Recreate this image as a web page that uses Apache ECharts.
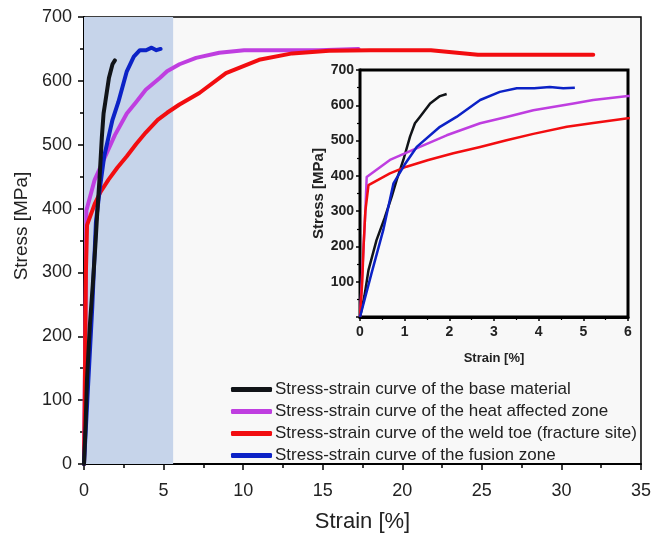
<!DOCTYPE html>
<html><head><meta charset="utf-8">
<script src="https://cdn.jsdelivr.net/npm/echarts@6/dist/echarts.min.js"></script>
<style>html,body{margin:0;padding:0;background:#fff;}#c{width:654px;height:538px;}</style>
</head><body><div id="c"></div>
<script>
const names = [
  'Stress-strain curve of the base material',
  'Stress-strain curve of the heat affected zone',
  'Stress-strain curve of the weld toe (fracture site)',
  'Stress-strain curve of the fusion zone'
];
const colors = ['#111418', '#bf3ee0', '#f20d10', '#0c22c6'];

const baseStrain = [0, 0.1, 0.19, 0.37, 0.55, 0.71, 0.82, 0.97, 1.12, 1.23, 1.34, 1.57, 1.79, 1.94];
const baseStress = [0, 60, 133, 218, 280, 341, 388, 445, 511, 549, 567, 605, 626, 632];

const hazStrain = [0, 0.08, 0.12, 0.15, 0.67, 1.34, 1.94, 2.69, 3.28, 3.88, 4.78, 5.22, 6.0, 7.04, 8.5, 10.06, 12, 14.75, 17.25];
const hazStress = [0, 200, 300, 397, 445, 482, 515, 549, 567, 586, 605, 615, 626, 636, 644, 648, 648, 648, 650];

const toeStrain = [0, 0.05, 0.08, 0.12, 0.19, 0.67, 1.04, 1.53, 2.09, 2.69, 3.28, 3.88, 4.63, 5.22, 6.0, 7.25, 8.92, 11, 13.08, 15.4, 18, 21.8, 24.75, 32.0];
const toeStress = [0, 100, 200, 300, 374, 407, 426, 445, 464, 482, 501, 519, 539, 550, 563, 581, 612, 633, 643, 647, 648, 648, 641, 641];

const fusStrain = [0, 0.25, 0.52, 0.75, 1.0, 1.27, 1.79, 2.16, 2.69, 3.13, 3.51, 3.9, 4.25, 4.55, 4.81];
const fusStress = [0, 120, 246, 379, 432, 482, 539, 567, 615, 638, 648, 648, 652, 648, 650];

const shadeFrom = 0, shadeTo = 5.6;

const pairs = (xs, ys) => xs.map((x, i) => [x, ys[i]]);
const datasets = [pairs(baseStrain, baseStress), pairs(hazStrain, hazStress), pairs(toeStrain, toeStress), pairs(fusStrain, fusStress)];

const FONT = 'Liberation Sans, Arial, sans-serif';
const series = [];
datasets.forEach((d, i) => {
  series.push({
    name: names[i], type: 'line', xAxisIndex: 0, yAxisIndex: 0, data: d,
    showSymbol: false, symbol: 'none', smooth: false,
    lineStyle: { color: colors[i], width: 4, cap: 'round', join: 'round' },
    itemStyle: { color: colors[i] }, z: 3 + (i === 0 ? 1 : 0),
    markArea: i === 0 ? { silent: true, itemStyle: { color: '#c6d4ea', opacity: 1 }, data: [[{ xAxis: shadeFrom }, { xAxis: shadeTo }]], z: 1 } : undefined
  });
});
datasets.forEach((d, i) => {
  series.push({
    name: names[i], type: 'line', xAxisIndex: 1, yAxisIndex: 1, data: d,
    showSymbol: false, symbol: 'none', clip: true,
    lineStyle: { color: colors[i], width: 2.5, join: 'round' },
    itemStyle: { color: colors[i] }, z: 5
  });
});

const chart = echarts.init(document.getElementById('c'), null, { renderer: 'canvas' });
chart.setOption({
  animation: false,
  backgroundColor: '#ffffff',
  textStyle: { fontFamily: FONT },
  grid: [
    { left: 84, top: 17, width: 560, height: 450, show: true, backgroundColor: '#f8f8f8', borderColor: '#000', borderWidth: 1.5 },
    { left: 360, top: 70, width: 268, height: 247, show: true, backgroundColor: '#f9f9f9', borderColor: '#000', borderWidth: 3, z: 4 }
  ],
  legend: {
    orient: 'vertical', left: 226, top: 376, itemGap: 5,
    itemWidth: 41, itemHeight: 5, icon: 'roundRect',
    data: names,
    textStyle: { fontFamily: FONT, fontSize: 17, color: '#222', lineHeight: 16, padding: [0, 0, 0, -2] }
  },
  xAxis: [
    {
      gridIndex: 0, type: 'value', min: 0, max: 35, interval: 5,
      name: 'Strain [%]', nameLocation: 'middle', nameGap: 47,
      nameTextStyle: { fontSize: 22, color: '#222', fontFamily: FONT },
      axisLine: { lineStyle: { color: '#000', width: 2 } },
      axisTick: { inside: false, length: 6, lineStyle: { color: '#000', width: 1.5 } },
      minorTick: { show: true, splitNumber: 2, length: 4, lineStyle: { color: '#000', width: 1.5 } },
      axisLabel: { fontSize: 18, color: '#222', margin: 18, fontFamily: FONT },
      splitLine: { show: false }
    },
    {
      gridIndex: 1, type: 'value', min: 0, max: 6, interval: 1,
      name: 'Strain [%]', nameLocation: 'middle', nameGap: 35,
      nameTextStyle: { fontSize: 13, fontWeight: 'bold', color: '#222', fontFamily: FONT },
      axisLine: { lineStyle: { color: '#000', width: 3 } },
      axisTick: { inside: false, length: 4, lineStyle: { color: '#000', width: 1.5 } },
      minorTick: { show: true, splitNumber: 2, length: 3, lineStyle: { color: '#000', width: 1.2 } },
      axisLabel: { fontSize: 14, fontWeight: 'bold', color: '#222', margin: 8, fontFamily: FONT },
      splitLine: { show: false }
    }
  ],
  yAxis: [
    {
      gridIndex: 0, type: 'value', min: 0, max: 700, interval: 100,
      name: 'Stress [MPa]', nameLocation: 'middle', nameGap: 50,
      nameTextStyle: { fontSize: 19, color: '#222', fontFamily: FONT, padding: [0, 0, 0, 29] },
      axisLine: { lineStyle: { color: '#000', width: 2 } },
      axisTick: { inside: false, length: 6, lineStyle: { color: '#000', width: 1.5 } },
      minorTick: { show: true, splitNumber: 2, length: 4, lineStyle: { color: '#000', width: 1.5 } },
      axisLabel: { fontSize: 18, color: '#222', margin: 12, fontFamily: FONT },
      splitLine: { show: false }
    },
    {
      gridIndex: 1, type: 'value', min: 0, max: 700, interval: 100,
      name: 'Stress [MPa]', nameLocation: 'middle', nameGap: 33,
      nameTextStyle: { fontSize: 15, fontWeight: 'bold', color: '#222', fontFamily: FONT },
      axisLine: { lineStyle: { color: '#000', width: 3 } },
      axisTick: { inside: false, length: 4, lineStyle: { color: '#000', width: 1.5 } },
      minorTick: { show: true, splitNumber: 2, length: 3, lineStyle: { color: '#000', width: 1.2 } },
      axisLabel: { fontSize: 14, fontWeight: 'bold', color: '#222', margin: 6, fontFamily: FONT,
        formatter: v => (v === 0 ? '' : String(v)) },
      splitLine: { show: false }
    }
  ],
  series: series
});
</script>
</body></html>
